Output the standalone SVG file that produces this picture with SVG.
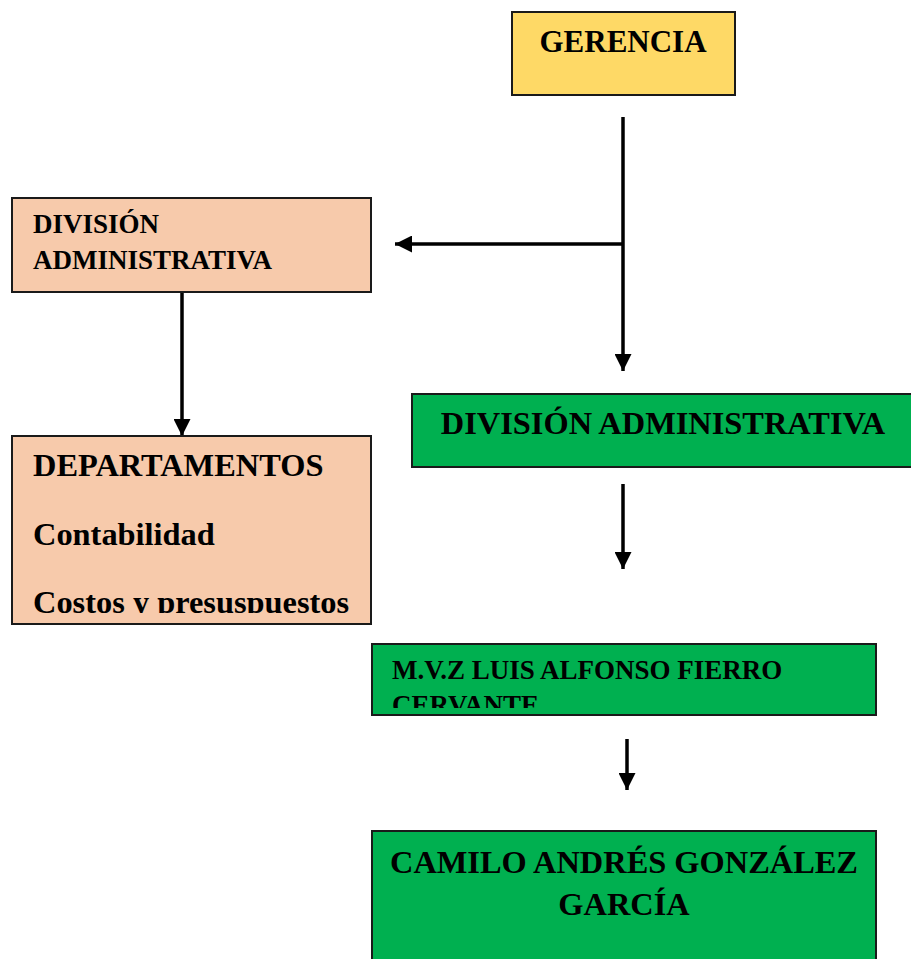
<svg xmlns="http://www.w3.org/2000/svg" width="911" height="959" viewBox="0 0 911 959">
<style>
.box{stroke:#1a1a1a;stroke-width:2}
.yel{fill:#FED966}
.peach{fill:#F7CAAB}
.green{fill:#00B050}
text{font-family:"Liberation Serif","Times New Roman",serif;font-weight:bold;fill:#000}
.conn{stroke:#000;stroke-width:3.5;fill:none}
</style>
<defs>
<marker id="ah" markerUnits="userSpaceOnUse" markerWidth="17" markerHeight="17" viewBox="0 0 17 17" refX="17" refY="8.5" orient="auto">
<path d="M0,0 L17,8.5 L0,17 Z" fill="#000"/>
</marker>
<clipPath id="clipDep"><rect x="12" y="436" width="359" height="177"/></clipPath>
<clipPath id="clipMvz"><rect x="372" y="644" width="504" height="64"/></clipPath>
</defs>
<g id="connectors">
<line class="conn" x1="623" y1="117" x2="623" y2="371" marker-end="url(#ah)"/>
<line class="conn" x1="624" y1="244" x2="395" y2="244" marker-end="url(#ah)"/>
<line class="conn" x1="182" y1="292" x2="182" y2="436" marker-end="url(#ah)"/>
<line class="conn" x1="623" y1="484" x2="623" y2="569" marker-end="url(#ah)"/>
<line class="conn" x1="627" y1="739" x2="627" y2="790" marker-end="url(#ah)"/>
</g>
<g id="gerencia">
<rect class="box yel" x="512" y="12" width="223" height="83"/>
<text x="623" y="52" font-size="31" text-anchor="middle">GERENCIA</text>
</g>
<g id="div-admin-left">
<rect class="box peach" x="12" y="198" width="359" height="94"/>
<text x="33" y="233" font-size="27">DIVISIÓN</text>
<text x="33" y="269" font-size="27">ADMINISTRATIVA</text>
</g>
<g id="departamentos">
<rect class="box peach" x="12" y="436" width="359" height="188"/>
<g clip-path="url(#clipDep)">
<text x="33" y="476" font-size="32.4">DEPARTAMENTOS</text>
<text x="33" y="545" font-size="32.4">Contabilidad</text>
<text x="33" y="613" font-size="32.4">Costos y presuspuestos</text>
</g>
</g>
<g id="div-admin-green">
<rect class="box green" x="412" y="394" width="502" height="73"/>
<text x="663" y="434" font-size="32.4" text-anchor="middle">DIVISIÓN ADMINISTRATIVA</text>
</g>
<g id="mvz">
<rect class="box green" x="372" y="644" width="504" height="71"/>
<g clip-path="url(#clipMvz)">
<text x="392" y="679" font-size="27">M.V.Z LUIS ALFONSO FIERRO</text>
<text x="392" y="714" font-size="27">CERVANTE</text>
</g>
</g>
<g id="camilo">
<rect class="box green" x="372" y="831" width="504" height="140"/>
<text x="624" y="873" font-size="32.4" text-anchor="middle">CAMILO ANDRÉS GONZÁLEZ</text>
<text x="624" y="915" font-size="32.4" text-anchor="middle">GARCÍA</text>
</g>
</svg>
